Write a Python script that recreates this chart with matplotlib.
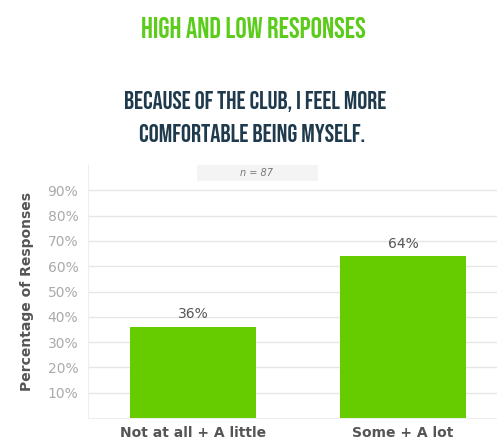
import matplotlib
matplotlib.use("Agg")
import matplotlib.pyplot as plt
from matplotlib.patches import Rectangle
from matplotlib import font_manager as fm

categories = ["Not at all + A little", "Some + A lot"]
values = [36, 64]
value_labels = ["36%", "64%"]
yticks = [10, 20, 30, 40, 50, 60, 70, 80, 90]
ytick_labels = ["10%", "20%", "30%", "40%", "50%", "60%", "70%", "80%", "90%"]
title = "HIGH AND LOW RESPONSES"
subtitle_lines = ["BECAUSE OF THE CLUB, I FEEL MORE", "COMFORTABLE BEING MYSELF."]
n_label = "n = 87"
ylabel = "Percentage of Responses"

names = sorted({f.name for f in fm.fontManager.ttflist})
cond = "DejaVu Sans"
for cand in ["Bebas Neue", "Oswald", "Roboto Condensed", "Open Sans Condensed",
             "Liberation Sans Narrow", "Noto Sans Condensed"]:
    if cand in names:
        cond = cand
        break

W, H = 497, 441
fig = plt.figure(figsize=(W / 100, H / 100), dpi=100)
fig.patch.set_facecolor("white")

left, right, bottom, top = 88, 497, 441 - 418, 441 - 165
ax = fig.add_axes([left / W, bottom / H, (right - left) / W, (top - bottom) / H])
x = list(range(len(categories)))
ax.bar(x, values, width=0.6, color="#66CC00", zorder=3)
ax.set_xlim(-0.5, 1.448)
ax.set_ylim(0, 100)
ax.set_yticks(yticks)
ax.set_yticklabels(ytick_labels)
ax.set_xticks(x)
ax.set_xticklabels(categories, fontsize=10, fontweight="bold", color="#555555")
ax.tick_params(axis="y", length=0, pad=7, labelsize=10, labelcolor="#aaaaaa")
ax.tick_params(axis="x", length=0, pad=6)
ax.grid(axis="y", color="#e6e6e6", linewidth=1, zorder=0)
for s in ["top", "right"]:
    ax.spines[s].set_visible(False)
for s in ["left", "bottom"]:
    ax.spines[s].set_color("#eeeeee")
ax.set_ylabel(ylabel, fontsize=10, fontweight="bold", color="#555555", labelpad=10)

for xi, v, lab in zip(x, values, value_labels):
    ax.text(xi, v + 2.2, lab, ha="center", va="bottom", fontsize=10, color="#555555")

fig.patches.append(Rectangle((197 / W, 1 - 181 / H), (318 - 197) / W, 16 / H,
                             transform=fig.transFigure, facecolor="#f4f4f4",
                             edgecolor="none", zorder=5))
fig.text(257 / W, 1 - 173 / H, n_label, ha="center", va="center", fontsize=7,
         style="italic", color="#777777", zorder=6)

t1 = fig.text(253 / W, 1 - 27 / H, title, ha="center", va="center", fontsize=20,
              fontweight="bold", color="#5ccc1a", family=cond, fontstretch="condensed")
t2 = fig.text(255 / W, 1 - 101 / H, subtitle_lines[0], ha="center", va="center", fontsize=16,
              fontweight="bold", color="#1e3a4c", family=cond, fontstretch="condensed")
t3 = fig.text(252 / W, 1 - 133 / H, subtitle_lines[1], ha="center", va="center", fontsize=16,
              fontweight="bold", color="#1e3a4c", family=cond, fontstretch="condensed")

# fit widths (compromise between reference width and cap height)
fig.canvas.draw()
r = fig.canvas.get_renderer()
for t, target in [(t1, 225), (t2, 262), (t3, 226)]:
    w = t.get_window_extent(r).width
    t.set_fontsize(t.get_fontsize() * target / w)

fig.savefig("out.png", dpi=100)
